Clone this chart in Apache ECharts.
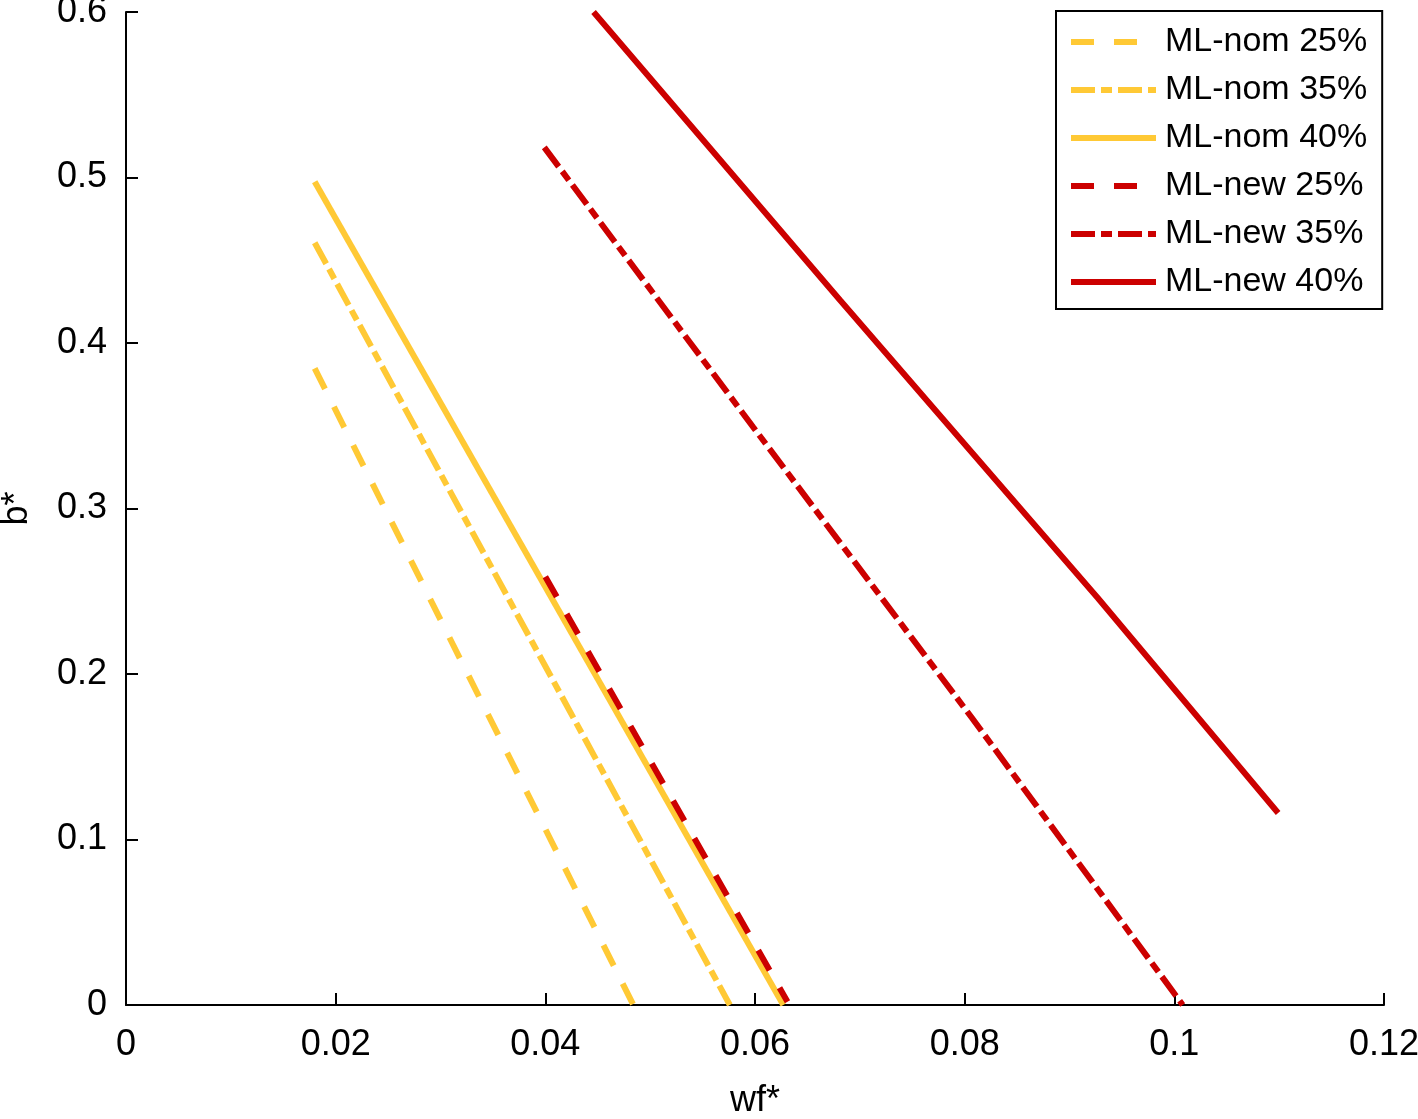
<!DOCTYPE html>
<html>
<head>
<meta charset="utf-8">
<script src="https://cdn.jsdelivr.net/npm/echarts@6/dist/echarts.min.js"></script>
<style>
html,body{margin:0;padding:0;background:#fff;}
#c{width:1418px;height:1119px;}
</style>
</head>
<body>
<div id="c"></div>
<script>
// ---- data ----
const seriesNames = ['ML-nom 25%', 'ML-nom 35%', 'ML-nom 40%', 'ML-new 25%', 'ML-new 35%', 'ML-new 40%'];
const nom25 = [[0.0180, 0.3847], [0.0484, 0.0]];
const nom35 = [[0.0180, 0.4606], [0.0576, 0.0]];
const nom40 = [[0.0180, 0.4974], [0.0627, 0.0]];
const new25 = [[0.0400, 0.2588], [0.0631, 0.002]];
const new35 = [[0.0399, 0.5182], [0.0598, 0.3494], [0.0807, 0.1734], [0.1008, 0.0]];
const new40 = [[0.0446, 0.6000], [0.0681, 0.4260], [0.0927, 0.2459], [0.1099, 0.1160]];
const xTickLabels = ['0', '0.02', '0.04', '0.06', '0.08', '0.1', '0.12'];
const yTickLabels = ['0', '0.1', '0.2', '0.3', '0.4', '0.5', '0.6'];

const YELLOW = '#ffc935';
const RED = '#cc0000';
const FONT = 'Liberation Sans, Arial, Helvetica, sans-serif';
const DASH = [23, 20];
const DASHDOT = [24, 6, 11, 6];

function mk(name, data, color, type) {
  return {
    name: name, type: 'line', data: data, showSymbol: false, symbol: 'none',
    silent: true, animation: false,
    lineStyle: { color: color, width: 6, type: type, cap: 'butt' },
    itemStyle: { color: color }
  };
}

const chart = echarts.init(document.getElementById('c'), null, { renderer: 'canvas' });
chart.setOption({
  backgroundColor: '#fff',
  animation: false,
  grid: { left: 126, right: 34, top: 12, bottom: 114, containLabel: false, outerBoundsMode: 'none' },
  legend: {
    left: 1056, top: 11,
    orient: 'vertical',
    backgroundColor: '#fff',
    borderColor: '#000', borderWidth: 2, borderRadius: 0,
    padding: [11, 15, 7, 12],
    itemWidth: 85, itemHeight: 20, itemGap: 8, itemTextGap: 14,
    itemStyle: { color: 'rgba(0,0,0,0)', borderColor: 'rgba(0,0,0,0)', borderWidth: 0, opacity: 0 },
    lineStyle: { width: 6 },
    textStyle: { fontFamily: FONT, fontSize: 34, color: '#000', lineHeight: 40, padding: [0, 0, 0, 4] },
    data: seriesNames
  },
  xAxis: {
    type: 'value', min: 0, max: 0.12, interval: 0.02,
    name: 'wf*', nameLocation: 'middle', nameGap: 78,
    nameTextStyle: { fontFamily: FONT, fontSize: 36, color: '#000' },
    axisLine: { show: true, onZero: false, lineStyle: { color: '#000', width: 2 } },
    axisTick: { show: true, inside: true, length: 12, lineStyle: { color: '#000', width: 2 } },
    axisLabel: {
      fontFamily: FONT, fontSize: 36, color: '#000', margin: 22,
      formatter: function (v) { return xTickLabels[Math.round(v / 0.02)]; }
    },
    splitLine: { show: false }
  },
  yAxis: {
    type: 'value', min: 0, max: 0.6, interval: 0.1,
    name: 'b*', nameLocation: 'middle', nameGap: 91, nameRotate: 90,
    nameTextStyle: { fontFamily: FONT, fontSize: 36, color: '#000' },
    axisLine: { show: true, onZero: false, lineStyle: { color: '#000', width: 2 } },
    axisTick: { show: true, inside: true, length: 12, lineStyle: { color: '#000', width: 2 } },
    axisLabel: {
      fontFamily: FONT, fontSize: 36, color: '#000', margin: 19,
      formatter: function (v) { return yTickLabels[Math.round(v / 0.1)]; }
    },
    splitLine: { show: false }
  },
  series: [
    mk(seriesNames[0], nom25, YELLOW, DASH),
    mk(seriesNames[1], nom35, YELLOW, DASHDOT),
    mk(seriesNames[2], nom40, YELLOW, 'solid'),
    mk(seriesNames[3], new25, RED, DASH),
    mk(seriesNames[4], new35, RED, DASHDOT),
    mk(seriesNames[5], new40, RED, 'solid')
  ]
});
</script>
</body>
</html>
